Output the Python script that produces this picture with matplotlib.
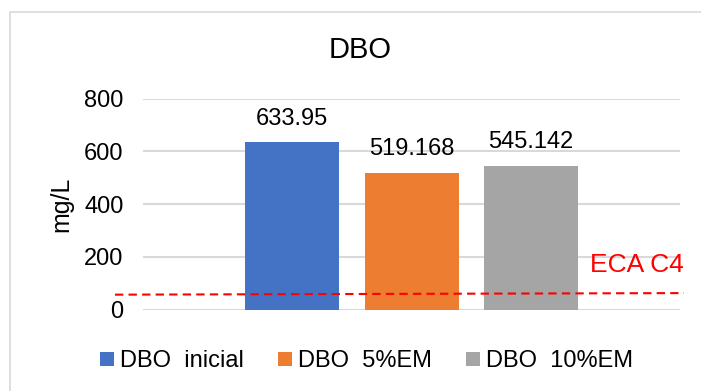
import matplotlib
matplotlib.use("Agg")
import matplotlib.pyplot as plt
from matplotlib.patches import Rectangle, Patch
from matplotlib.transforms import blended_transform_factory

plt.rcParams['font.family'] = ['Liberation Sans', 'DejaVu Sans']

series = ["DBO  inicial", "DBO  5%EM", "DBO  10%EM"]
values = [633.95, 519.168, 545.142]
labels = ["633.95", "519.168", "545.142"]
colors = ["#4472C4", "#ED7D31", "#A5A5A5"]
yticks = [0, 200, 400, 600, 800]
eca_line = [57, 63]   # dashed reference line (slightly tilted in original)
eca_label = "ECA C4"

fig = plt.figure(figsize=(7.01, 3.91), dpi=100)
W, H = 701, 391

# chart border (partially cropped in original)
fig.patches.append(Rectangle((10 / W, -0.1), 1.2, 1 - 12 / H + 0.1,
                             transform=fig.transFigure, fill=False,
                             edgecolor="#d9d9d9", linewidth=1.2))

ax = fig.add_axes([143 / W, 1 - 309.7 / H, 537 / W, 211 / H])
ax.set_xlim(-0.5, 0.5)
ax.set_ylim(0, 800)

width = 94 / 537
step = 119.5 / 537
for i, (v, c, lab) in enumerate(zip(values, colors, labels)):
    x = (i - 1) * step
    ax.bar(x, v, width=width, color=c, zorder=2)
    ax.annotate(lab, (x, v), xytext=(0, 9), textcoords="offset points",
                ha="center", va="bottom", fontsize=17, color="#000000")

ax.set_yticks(yticks)
ax.set_yticklabels([str(t) for t in yticks], fontsize=17)
ax.set_xticks([])
ax.tick_params(axis="y", length=0, pad=14)
ax.grid(axis="y", color="#d9d9d9", linewidth=1.5, zorder=0)
ax.set_axisbelow(True)
for s in ax.spines.values():
    s.set_visible(False)
ax.set_ylabel("mg/L", fontsize=18, labelpad=0)
ax.yaxis.set_label_coords((73 - 143) / 537, 0.5)

tr = blended_transform_factory(ax.transAxes, ax.transData)
ax.plot([(115 - 143) / 537, (684 - 143) / 537], eca_line, transform=tr,
        color="#FF0000", linewidth=1.5, dashes=(4, 2.5), clip_on=False, zorder=3)
ax.text((684 - 143) / 537, (309.7 - 272) / 0.26375, eca_label, transform=tr,
        ha="right", va="baseline", color="#FF0000", fontsize=19, clip_on=False)

fig.text(360 / W, 1 - 50 / H, "DBO", ha="center", va="center", fontsize=21)

handles = [Patch(facecolor=c, edgecolor="none") for c in colors]
fig.legend(handles, series, loc="center", bbox_to_anchor=(366.5 / W, 1 - 361 / H),
           ncol=3, frameon=False, fontsize=17, handlelength=0.6,
           handleheight=0.55, handletextpad=0.25, columnspacing=1.45)

fig.savefig("out.png", dpi=100)
